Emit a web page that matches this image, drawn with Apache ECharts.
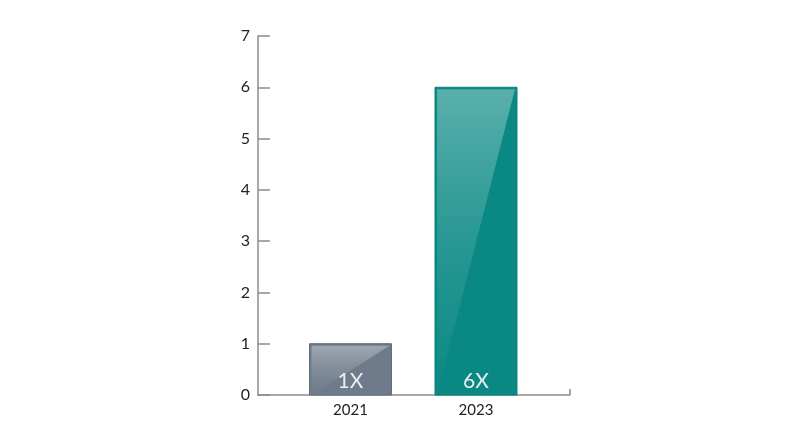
<!DOCTYPE html>
<html><head><meta charset="utf-8">
<script src="https://cdn.jsdelivr.net/npm/echarts@6/dist/echarts.min.js"></script>
<style>html,body{margin:0;padding:0;background:#fff}#c{width:800px;height:447px}</style>
</head><body><div id="c"></div>
<script>
const categories = ['2021', '2023'];
const values = [1, 6];
const barLabels = ['1X', '6X'];
const barColors = ['#6f7b8a', '#0a8984'];
const borderColors = ['#616d7b', '#02817b'];

const xMin = -0.737, xMax = 1.749;
const barW = 0.653;
const axisColor = '#8c8c8c';

const chart = echarts.init(document.getElementById('c'));
chart.setOption({
  animation: false,
  grid: { left: 258, right: 230, top: 36, bottom: 52 },
  xAxis: {
    type: 'value', min: xMin, max: xMax,
    splitLine: { show: false },
    axisLine: { show: true, onZero: false, lineStyle: { color: axisColor, width: 1.5 } },
    axisTick: { show: true, inside: true, length: 6, customValues: [xMax], lineStyle: { color: axisColor, width: 1.5 } },
    axisLabel: {
      customValues: categories.map((c, i) => i),
      formatter: v => categories[Math.round(v)] || '',
      color: '#222', fontSize: 15, fontFamily: 'Lato', margin: 8
    }
  },
  yAxis: {
    type: 'value', min: 0, max: 7, interval: 1,
    splitLine: { show: false },
    axisLine: { show: true, onZero: false, lineStyle: { color: axisColor, width: 1.5 } },
    axisTick: { show: true, inside: true, length: 12, lineStyle: { color: axisColor, width: 1.5 } },
    axisLabel: { color: '#222', fontSize: 16, fontFamily: 'Lato', margin: 8 }
  },
  series: [{
    type: 'custom',
    data: values.map((v, i) => [i, v]),
    renderItem: function (params, api) {
      const i = params.dataIndex;
      const x = api.value(0), v = api.value(1);
      const tl = api.coord([x - barW / 2, v]);
      const br = api.coord([x + barW / 2, 0]);
      const w = br[0] - tl[0], h = br[1] - tl[1];
      const ins = 2;
      return {
        type: 'group',
        children: [
          { type: 'rect', shape: { x: tl[0], y: tl[1], width: w, height: h },
            style: { fill: barColors[i], stroke: borderColors[i], lineWidth: 1 } },
          { type: 'polygon',
            shape: { points: [[tl[0] + ins, tl[1] + ins], [br[0] - ins, tl[1] + ins], [tl[0] + ins, br[1]]] },
            style: { fill: new echarts.graphic.LinearGradient(0, 0, 0, 1, [
              { offset: 0, color: 'rgba(255,255,255,0.32)' },
              { offset: 0.5, color: 'rgba(255,255,255,0.12)' },
              { offset: 1, color: 'rgba(255,255,255,0.0)' }
            ]) } },
          { type: 'text', x: (tl[0] + br[0]) / 2, y: br[1] - 14,
            style: { text: barLabels[i], fill: '#e9eef1', fontSize: 21, fontFamily: 'Lato', align: 'center', verticalAlign: 'middle' } }
        ]
      };
    }
  }]
});
</script></body></html>
